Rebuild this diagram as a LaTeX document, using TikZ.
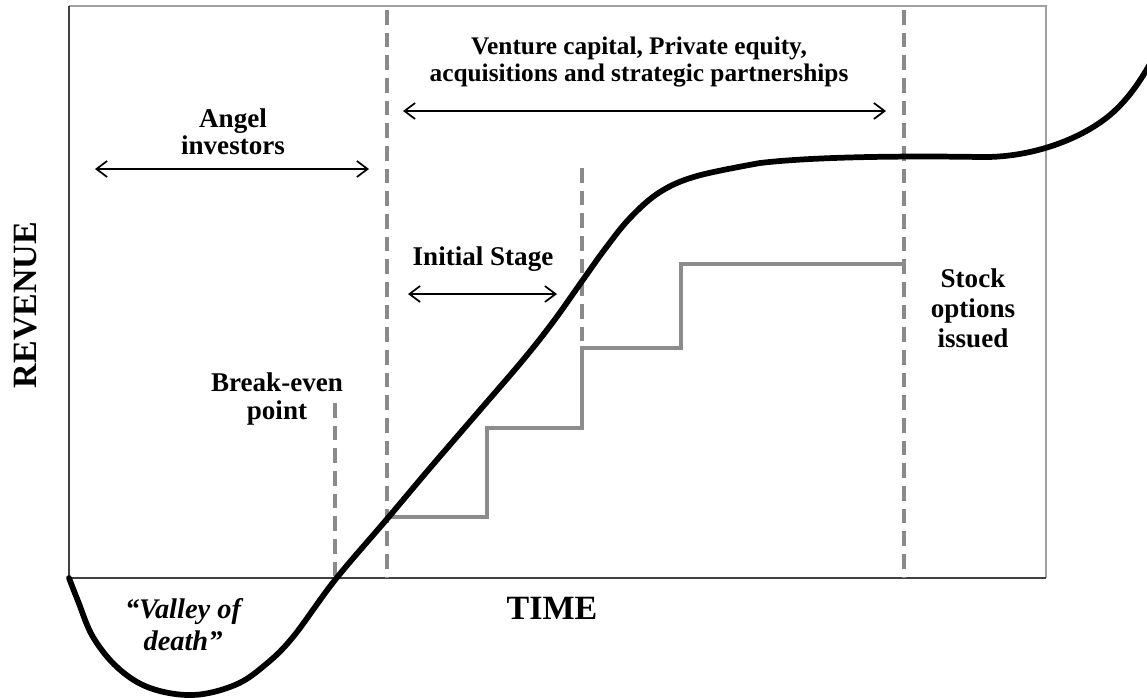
\documentclass[tikz,border=0pt]{standalone}
\usepackage{fontspec}
\setmainfont{Liberation Serif}
\usetikzlibrary{arrows.meta}
\definecolor{axisc}{HTML}{404040}
\definecolor{boxc}{HTML}{A0A0A0}
\definecolor{dashc}{HTML}{8A8A8A}
\definecolor{stairc}{HTML}{8C8C8C}
\begin{document}
\begin{tikzpicture}[x=0.75pt,y=-0.75pt,
  lbl/.style={font=\bfseries\fontsize{20.3}{20.3}\selectfont, align=center, inner sep=0pt},
  lblit/.style={font=\bfseries\itshape\fontsize{21.3}{24}\selectfont, align=center, inner sep=0pt},
  big/.style={font=\bfseries\fontsize{25.5}{28}\selectfont, inner sep=0pt},
  span/.style={{Straight Barb[length=8pt,width=12pt]}-{Straight Barb[length=8pt,width=12pt]}, line width=1.3pt},
  dashv/.style={draw=dashc, line width=3pt, dash pattern=on 11pt off 6pt},
  stair/.style={draw=stairc, line width=2.6pt},
  revcurve/.style={line width=4.3pt, line cap=round, line join=round}
]
\useasboundingbox (0,0) rectangle (1147,697);

% frame and axes
\draw[line width=0.8pt, boxc] (69,6) -- (1046,6) -- (1046,578);
\draw[line width=1.4pt, axisc] (69,6) -- (69,578) -- (1046,578);

% dashed guides
\coordinate (vcT) at (387,10);   \coordinate (vcB) at (387,578);
\coordinate (soT) at (904,10);   \coordinate (soB) at (904,578);
\coordinate (isT) at (582,168);  \coordinate (isB) at (582,348);
\coordinate (beT) at (335,403);  \coordinate (beB) at (335,578);
\draw[dashv] (vcT) -- (vcB);
\draw[dashv] (soT) -- (soB);
\draw[dashv] (isT) -- (isB);
\draw[dashv] (beT) -- (beB);

% stairs
\coordinate (s0) at (387,517);
\coordinate (s1) at (487,428);
\coordinate (s2) at (582,348);
\coordinate (s3) at (681,264);
\coordinate (s4) at (904,264);
\draw[stair] (s0) -| (s1) -| (s2) -| (s3) -- (s4);

% span arrows
\coordinate (aL) at (95,169);  \coordinate (aR) at (369,169);
\coordinate (vL) at (403,111); \coordinate (vR) at (886,111);
\coordinate (iL) at (408,294); \coordinate (iR) at (557,294);
\draw[span] (aL) -- (aR);
\draw[span] (vL) -- (vR);
\draw[span] (iL) -- (iR);

% labels
\node[lbl] (angel) at (233,132) {Angel\\investors};
\node[lbl, font=\bfseries\fontsize{19}{20.3}\selectfont] (vc) at (639,62) {Venture capital, Private equity,\\acquisitions and strategic partnerships};
\node[lbl] (init) at (483,259) {Initial Stage};
\node[lbl] (be) at (277,399) {Break-even\\point};
\node[lbl, font=\bfseries\fontsize{20.3}{22.5}\selectfont] (so) at (973,308) {Stock\\options\\issued};
\node[lblit] (valley) at (183,625) {``Valley of\\death''};
\node[big] (time) at (552,608) {TIME};
\node[big, rotate=90] (rev) at (26,305) {REVENUE};

% revenue curve
\draw[revcurve] plot[smooth, tension=0.6] coordinates {
 (69,578) (78,601) (93,637) (118,668) (150,688) (193,695) (235,685) (265,665)
 (293,637) (335,580) (387,519) (430,468) (480,410) (523,360) (553,322)
 (580,284) (605,249) (630,218) (660,192) (697,176) (760,163)}
 .. controls (820,156) and (920,156) .. (980,157)
 .. controls (1030,158) and (1080,140) .. (1110,115)
 .. controls (1130,98) and (1145,75) .. (1160,45);
\end{tikzpicture}
\end{document}
